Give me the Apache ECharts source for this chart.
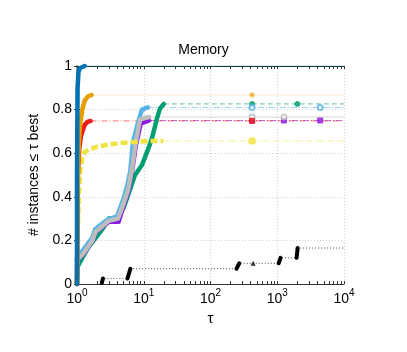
<!DOCTYPE html>
<html><head><meta charset="utf-8">
<script src="https://cdn.jsdelivr.net/npm/echarts@6/dist/echarts.min.js"></script>
<style>html,body{margin:0;padding:0;background:#fff}#c{width:407px;height:352px}</style>
</head><body><div id="c"></div>
<script>
// ---- text ----
const titleText = 'Memory';
const xName = 'τ';
const yName = '# instances ≤ τ best';
const xMajorTicks = [1, 10, 100, 1000, 10000];
const yTicks = [0, 0.2, 0.4, 0.6, 0.8, 1];
const xMax = 10000;

// ---- data (tau, fraction) ----
const blueTau = [1, 1, 1.02, 1.05, 1.1, 1.3];
const blueY   = [0, 0.5, 0.9, 0.97, 0.99, 1.0];

const orangeTau = [1, 1.02, 1.05, 1.1, 1.2, 1.3, 1.45, 1.65];
const orangeY   = [0, 0.4, 0.6, 0.72, 0.8, 0.84, 0.86, 0.867];

const redTau = [1, 1.03, 1.08, 1.15, 1.3, 1.45, 1.6];
const redY   = [0, 0.5, 0.62, 0.68, 0.73, 0.745, 0.748];

const yellowTau = [1, 1.03, 1.07, 1.12, 1.2, 1.3, 1.5, 2, 3, 5, 8, 13, 19.5];
const yellowY   = [0, 0.25, 0.42, 0.52, 0.58, 0.605, 0.615, 0.63, 0.64, 0.648, 0.653, 0.656, 0.656];

const skyTau = [1, 1.23, 1.68, 1.86, 2.45, 2.9, 3.97, 4.9, 5.6, 6.3, 6.9, 8.2, 9.4, 11.5];
const skyY   = [0.12, 0.156, 0.21, 0.25, 0.28, 0.295, 0.31, 0.385, 0.445, 0.52, 0.65, 0.74, 0.8, 0.81];

const grayTau = [1, 1.25, 1.7, 1.9, 2.5, 3.0, 4.1, 5.0, 5.8, 6.7, 7.5, 8.8, 12];
const grayY   = [0.11, 0.14, 0.2, 0.24, 0.27, 0.29, 0.3, 0.37, 0.43, 0.53, 0.64, 0.755, 0.766];

const purpleTau = [1, 1.25, 1.7, 1.9, 2.5, 3.0, 4.2, 5.05, 5.85, 6.75, 7.6, 9.0, 12];
const purpleY   = [0.108, 0.138, 0.198, 0.237, 0.267, 0.285, 0.285, 0.365, 0.425, 0.525, 0.635, 0.735, 0.75];

const greenTau = [1, 1.02, 1.2, 1.5, 2, 2.5, 3, 4, 5, 6, 7.4, 9.4, 10.4, 12, 13.3, 15.8, 17.5, 20];
const greenY   = [0, 0.08, 0.12, 0.17, 0.22, 0.26, 0.3, 0.3, 0.35, 0.42, 0.5, 0.546, 0.58, 0.63, 0.67, 0.76, 0.805, 0.826];

const blackTau = [2.35, 2.45, 5.7, 6.3, 245, 270, 1050, 1120, 1950, 2020, 10000];
const blackY   = [0.005, 0.025, 0.025, 0.07, 0.07, 0.095, 0.095, 0.12, 0.12, 0.165, 0.165];

// marker positions on the tail lines
const orangeMarks = [420];
const redMarks = [420];
const yellowMarks = [420];
const skyMarks = [420, 4400];
const grayMarks = [420, 1260];
const purpleMarks = [420, 1260, 4400];
const greenMarks = [420, 2000];
const blackMarks = [435];

const zip = (a, b) => a.map((v, i) => [v, b[i]]);
const asterisk = 'path://M5,0L5,10M0,5L10,5M1.5,1.5L8.5,8.5M8.5,1.5L1.5,8.5';

const defs = [
  {tau: greenTau, y: greenY, color: '#009E73', tail: [5, 3], marks: greenMarks, sym: 'circle', ss: 5},
  {tau: purpleTau, y: purpleY, color: '#8E1BE0', tail: [6, 2, 1, 2], marks: purpleMarks, sym: 'rect', ss: 5},
  {tau: skyTau, y: skyY, color: '#56B4E9', tail: [6, 2, 1, 2], marks: skyMarks, sym: 'emptyCircle', ss: 5},
  {tau: grayTau, y: grayY, color: '#BDBDBD', tail: 'solid', marks: grayMarks, sym: 'emptyCircle', ss: 5},
  {tau: yellowTau, y: yellowY, color: '#F0E442', tail: [6, 2, 1, 2], marks: yellowMarks, sym: 'rect', ss: 6, dashed: true},
  {tau: redTau, y: redY, color: '#EE1C1C', tail: [6, 2, 1, 2], marks: redMarks, sym: 'rect', ss: 5},
  {tau: orangeTau, y: orangeY, color: '#E69F00', tail: [1, 2], marks: orangeMarks, sym: asterisk, ss: 6},
  {tau: blueTau, y: blueY, color: '#0072B2', tail: 'solid', marks: [], sym: 'circle', ss: 5}
];

const series = [];
defs.forEach((d, i) => {
  const lastTau = d.tau[d.tau.length - 1], lastY = d.y[d.y.length - 1];
  series.push({
    type: 'line', xAxisIndex: 0, yAxisIndex: 0, data: [[lastTau, lastY], [xMax, lastY]],
    showSymbol: false, silent: true, z: 2,
    lineStyle: {color: d.color, width: 1, type: d.tail, opacity: 0.6}
  });
  series.push({
    type: 'scatter', xAxisIndex: 0, yAxisIndex: 0,
    data: d.marks.map(t => [t, lastY]), symbol: d.sym, symbolSize: d.ss, z: 3,
    itemStyle: {color: d.color, borderColor: d.color, borderWidth: 1}
  });
  series.push({
    type: 'line', xAxisIndex: 0, yAxisIndex: 0, data: zip(d.tau, d.y), clip: false,
    showSymbol: false, z: 4 + i,
    lineStyle: {color: d.color, width: 4.5, cap: d.dashed ? 'butt' : 'round', join: 'round', type: d.dashed ? [7, 3] : 'solid'}
  });
});

// black: thin dotted steps + thick risers
const blackPts = zip(blackTau, blackY);
series.push({
  type: 'line', xAxisIndex: 0, yAxisIndex: 0, data: blackPts, showSymbol: false, z: 3,
  lineStyle: {color: '#000', width: 1, type: [1, 2], opacity: 0.7}
});
const blackRise = [];
for (let i = 0; i < blackPts.length - 1; i++) {
  if (blackPts[i + 1][1] !== blackPts[i][1]) { blackRise.push(blackPts[i], blackPts[i + 1], [blackPts[i + 1][0], null]); }
}
series.push({
  type: 'line', xAxisIndex: 0, yAxisIndex: 0, data: blackRise, showSymbol: false, connectNulls: false, z: 20,
  lineStyle: {color: '#000', width: 4, cap: 'round'}
});
series.push({
  type: 'scatter', xAxisIndex: 0, yAxisIndex: 0, data: blackMarks.map(t => [t, 0.095]),
  symbol: 'triangle', symbolSize: 5, itemStyle: {color: '#000'}, z: 20
});

// minor tick positions on a log10 companion axis
const logTicks = [];
for (let d = 0; d < 4; d++) for (let k = 1; k < 10; k++) logTicks.push(Math.log10(k * Math.pow(10, d)));
logTicks.push(4);

const font = 'Liberation Sans, Arial, sans-serif';
const chart = echarts.init(document.getElementById('c'), null, {renderer: 'canvas'});
chart.setOption({
  animation: false,
  backgroundColor: '#fff',
  title: {text: titleText, left: 'center', top: 38, textStyle: {fontFamily: font, fontSize: 14, fontWeight: 'normal', color: '#000'}},
  grid: {left: 77, right: 63, top: 66, bottom: 68},
  xAxis: [
    {type: 'log', logBase: 10, min: 1, max: xMax, position: 'bottom',
     name: xName, nameLocation: 'middle', nameGap: 17,
     nameTextStyle: {fontFamily: font, fontSize: 15, color: '#000'},
     axisLine: {lineStyle: {color: '#333', width: 1}},
     axisTick: {show: false},
     axisLabel: {margin: 4, fontFamily: font, color: '#000',
       formatter: v => '{b|10}{s|' + Math.round(Math.log10(v)) + '}',
       rich: {b: {fontSize: 14, fontFamily: font, color: '#000', verticalAlign: 'bottom', lineHeight: 18},
              s: {fontSize: 10, fontFamily: font, color: '#000', verticalAlign: 'top', lineHeight: 18}}},
     splitLine: {show: true, lineStyle: {color: '#d0d0d0', type: [1, 2], width: 1}}},
    {type: 'value', min: 0, max: 4, position: 'bottom', axisLine: {show: false},
     axisTick: {show: true, inside: true, length: 3, customValues: logTicks, lineStyle: {color: '#333'}},
     axisLabel: {show: false}, splitLine: {show: false}},
    {type: 'value', min: 0, max: 4, position: 'top', axisLine: {show: true, lineStyle: {color: '#222'}},
     axisTick: {show: true, inside: true, length: 3, customValues: logTicks, lineStyle: {color: '#333'}},
     axisLabel: {show: false}, splitLine: {show: false}}
  ],
  yAxis: [
    {type: 'value', min: 0, max: 1, interval: 0.2, position: 'left',
     name: yName, nameLocation: 'middle', nameGap: 26,
     nameTextStyle: {fontFamily: font, fontSize: 14, color: '#000'},
     axisLine: {show: true, lineStyle: {color: '#333'}},
     axisTick: {show: true, inside: true, length: 3, lineStyle: {color: '#333'}},
     axisLabel: {margin: 5, fontFamily: font, fontSize: 14, color: '#000',
       formatter: v => (yTicks.includes(+v.toFixed(1)) ? String(+v.toFixed(1)) : '')},
     splitLine: {show: true, lineStyle: {color: '#d0d0d0', type: [1, 2], width: 1}}},
    {type: 'value', min: 0, max: 1, interval: 0.2, position: 'right',
     axisLine: {show: true, lineStyle: {color: '#999', width: 2}},
     axisTick: {show: true, inside: true, length: 3, lineStyle: {color: '#333'}},
     axisLabel: {show: false}, splitLine: {show: false}}
  ],
  series: series
});
</script></body></html>
